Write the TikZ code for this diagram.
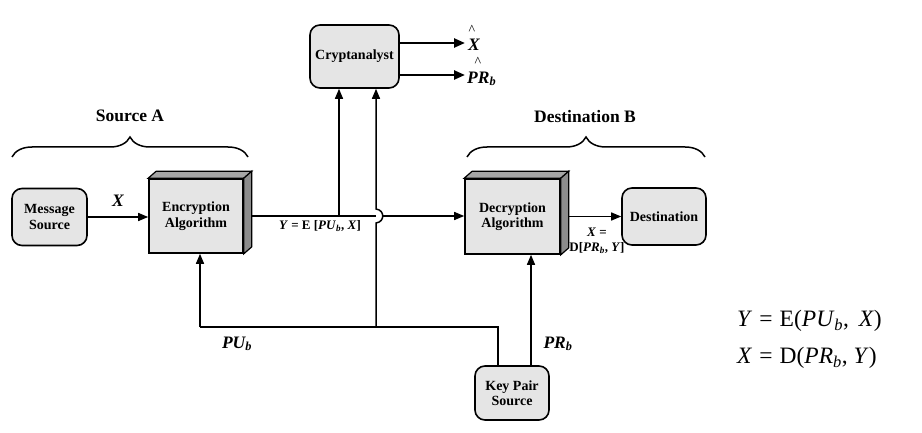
\documentclass[tikz,border=0pt]{standalone}
\usepackage{fontspec}
\setmainfont{Liberation Serif}
\usetikzlibrary{arrows.meta,calc,decorations.pathreplacing}
\tikzset{
  rbox/.style={draw=black,line width=1.6pt,fill=black!10,rounded corners=10pt,align=center,
    font=\fontsize{14}{15.5}\selectfont\bfseries,inner sep=2pt},
  cube/.style={draw=black,line width=1.6pt,fill=black!10,align=center,
    font=\fontsize{14}{15.5}\selectfont\bfseries,inner sep=2pt},
  side/.style={draw=black,line width=1.2pt,fill=black!45},
  topf/.style={draw=black,line width=1.2pt,fill=black!35},
  ln/.style={line width=1.5pt},
  arr/.style={line width=1.5pt,-{Triangle[length=10pt,width=8pt]}},
  thk/.style={line width=2.4pt,-{Triangle[length=11pt,width=9pt]}},
  lbl/.style={font=\fontsize{17.5}{19}\selectfont\bfseries\itshape,inner sep=0pt},
  sml/.style={font=\fontsize{13}{15}\selectfont\bfseries,inner sep=0pt,align=center},
  ttl/.style={font=\fontsize{17.5}{19}\selectfont\bfseries,inner sep=0pt},
  eqn/.style={font=\fontsize{23.5}{25}\selectfont,inner sep=0pt,anchor=west},
  brc/.style={line width=1.5pt,decorate,decoration={brace,amplitude=20pt}}
}
\newcommand{\eqsp}{\hspace{0.3em}}
\begin{document}
\begin{tikzpicture}[x=1pt,y=-1pt]
\useasboundingbox (0,0) rectangle (922,433);

% nodes
\node[rbox,minimum width=75pt,minimum height=57pt] (msg) at (49.5,217) {Message\\Source};
\node[cube,minimum width=94pt,minimum height=74pt] (enc) at (196,216) {Encryption\\Algorithm};
\node[cube,minimum width=95pt,minimum height=75pt] (dec) at (512.5,216.5) {Decryption\\Algorithm};
\node[rbox,minimum width=84pt,minimum height=57pt] (dst) at (664,216.5) {Destination};
\node[rbox,minimum width=89pt,minimum height=63pt] (cry) at (354.5,56.5) {Cryptanalyst};
\node[rbox,minimum width=74pt,minimum height=54pt] (key) at (512,393) {Key Pair\\Source};

% 3D faces
\foreach \b in {enc,dec}{
  \draw[topf] (\b.north west) -- ++(8,-7) -- ($(\b.north east)+(8,-7)$) -- (\b.north east) -- cycle;
  \draw[side] (\b.north east) -- ++(8,-7) -- ($(\b.south east)+(8,-7)$) -- (\b.south east) -- cycle;
}

% coordinates
\coordinate (encR) at ($(enc.east)+(8,0)$);
\coordinate (decR) at ($(dec.east)+(8,0)$);
\coordinate (j1) at (339,216);
\coordinate (hl) at (376,216);
\coordinate (hr) at (383,216);
\coordinate (j2) at (376,327);
\coordinate (hb) at (376,223);
\coordinate (ht) at (376,209);
\coordinate (pu) at (200,327);
\coordinate (kc) at (498,327);
\coordinate (prb) at (531,300);
\coordinate (xh) at (465,43);
\coordinate (prh) at (465,75);

% connectors
\draw[arr] (msg.east) -- (msg.east -| enc.west);
\draw[ln] (encR) -- (hl);
\draw[arr] (hr) -- (hr -| dec.west);
\draw[arr] (j1) -- (j1 |- cry.south);
\draw[arr] (j2) -- (hb) .. controls (385,222) and (385,210) .. (ht) -- (ht |- cry.south);
\draw[arr] (pu) -- (pu |- enc.south);
\draw[ln] (pu) -- (kc) -- (kc |- key.north);
\draw[arr] (prb |- key.north) -- (prb |- dec.south);
\draw[arr] (decR) -- (decR -| dst.west);
\draw[thk] (cry.east |- xh) -- (xh);
\draw[thk] (cry.east |- prh) -- (prh);

% braces
\draw[brc] (12,157) -- (248,157);
\draw[brc] (467,157) -- (705,157);
\node[ttl] (srcA) at (130,116) {Source A};
\node[ttl] (dstB) at (585,117) {Destination B};

% labels
\node[lbl] (lx) at (118,201) {X};
\node[sml] (ly) at (320,226) {\textit{Y} = E [\textit{PU}\textsubscript{\textit{b}}, \textit{X}]};
\node[sml] (lxd) at (597,241) {\textit{X} =\\D[\textit{PR}\textsubscript{\textit{b}}, \textit{Y}]};
\node[lbl] (lpu) at (237,344) {PU\textsubscript{b}};
\node[lbl] (lpr) at (558,344) {PR\textsubscript{b}};
\node[lbl] (xhat) at (474,45) {X};
\node[font=\fontsize{14}{15}\selectfont,inner sep=0pt] (c1) at (472,30) {\textasciicircum};
\node[lbl,anchor=west] (prhat) at (467,79) {PR\textsubscript{b}};
\node[font=\fontsize{14}{15}\selectfont,inner sep=0pt] (c2) at (478,62) {\textasciicircum};

% equations
\node[eqn] (e1) at (737,321) {\textit{Y}\eqsp=\eqsp E(\textit{PU}\textsubscript{\textit{b}},\, \textit{X})};
\node[eqn] (e2) at (737,358) {\textit{X}\eqsp=\eqsp D(\textit{PR}\textsubscript{\textit{b}}, \textit{Y})};
\end{tikzpicture}
\end{document}
